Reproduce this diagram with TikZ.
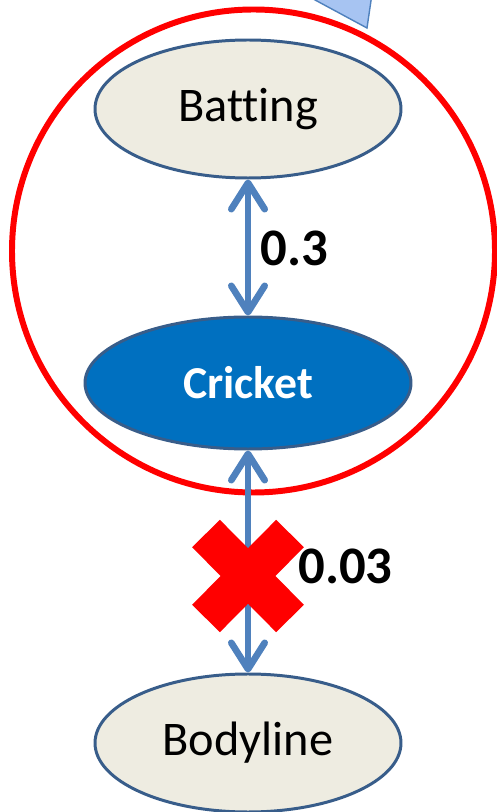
\documentclass[tikz,border=0pt]{standalone}
\usepackage{fontspec}
\setmainfont{Carlito}[Ligatures=NoCommon]
\usetikzlibrary{arrows.meta,shapes.geometric}

\definecolor{bordbleu}{HTML}{385D8A}
\definecolor{fondbeige}{HTML}{EEECE1}
\definecolor{bleucricket}{HTML}{0070C0}
\definecolor{bleufleche}{HTML}{4F81BD}
\definecolor{bleuclair}{HTML}{A7C4F2}
\definecolor{rouge}{HTML}{FF0000}

\tikzset{
  concept/.style={ellipse, draw=bordbleu, line width=1.7pt, fill=fondbeige,
    minimum width=6.12cm, minimum height=2.76cm, inner sep=0pt,
    font=\fontsize{27.5}{32}\selectfont},
  lien/.style={draw=bleufleche, line width=3.8pt,
    {Straight Barb[length=15pt,width=19pt,round]}-{Straight Barb[length=15pt,width=19pt,round]}},
  poids/.style={anchor=west, inner sep=0pt, font=\bfseries\fontsize{30}{34}\selectfont}
}

\begin{document}
\begin{tikzpicture}
  \useasboundingbox (0,0) rectangle (9.94,16.24);

  % Pointe de la bulle (coupée en haut de la figure)
  \begin{scope}
    \clip (0,0) rectangle (9.94,16.24);
    \draw[fill=bleuclair, draw=bleufleche, line width=0.8pt]
      (5.82,16.5) -- (7.34,15.68) -- (7.46,16.5) -- cycle;
  \end{scope}

  % Le cercle rouge autour de Batting et Cricket
  \draw[rouge, line width=3.4pt] (5.07,11.22) circle (4.83);

  % Les trois concepts
  \node[concept] (batting) at (4.96,14.06) {Batting};
  \node[concept, fill=bleucricket, text=white, minimum width=6.52cm,
    minimum height=2.64cm, font=\bfseries\fontsize{26}{31}\selectfont]
    (cricket) at (4.96,8.58) {Cricket};
  \node[concept] (bodyline) at (4.96,1.38) {Bodyline};

  % Les liens entre concepts
  \draw[lien] (batting) -- (cricket);
  \draw[lien] (cricket) -- (bodyline);

  % La croix rouge sur le lien faible
  \draw[rouge, line width=0.78cm] (4.12,5.57) -- (5.80,3.87);
  \draw[rouge, line width=0.78cm] (5.80,5.57) -- (4.12,3.87);

  % Les poids des liens
  \node[poids] (p1) at (5.2,11.28) {0.3};
  \node[poids] (p2) at (5.96,4.92) {0.03};

\end{tikzpicture}
\end{document}
